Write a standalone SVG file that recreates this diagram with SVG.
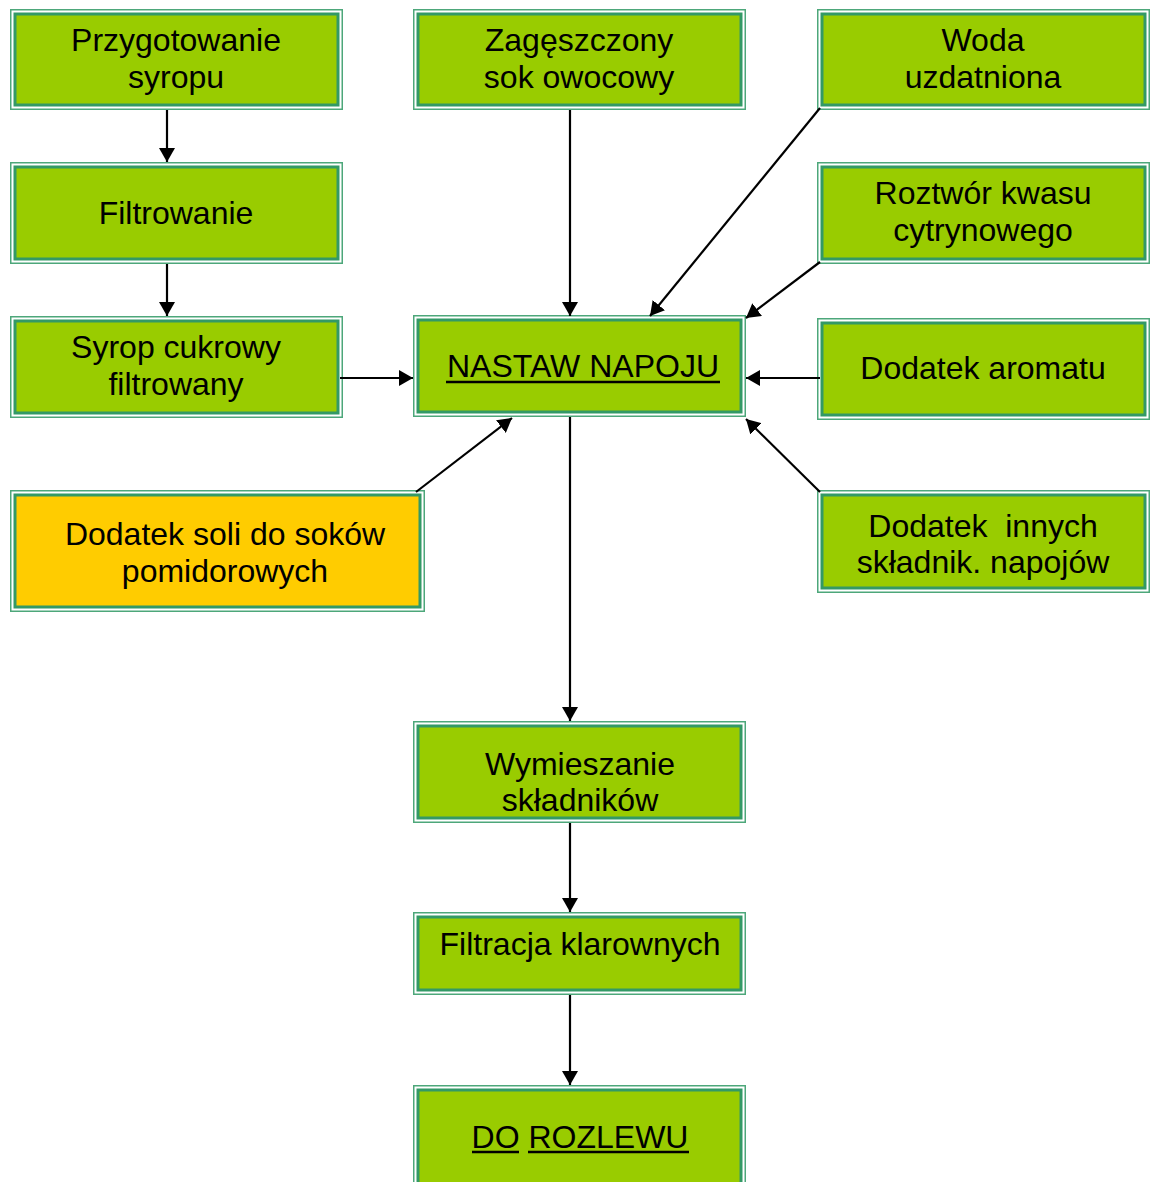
<svg xmlns="http://www.w3.org/2000/svg" width="1152" height="1182" viewBox="0 0 1152 1182">
<defs>
<style>
.o{fill:#ffffff;stroke:#4da77a;stroke-width:1.5}
.i{fill:#99cc00;stroke:#339966;stroke-width:3}
.y{fill:#ffcc00;stroke:#339966;stroke-width:3}
text{font-family:"Liberation Sans",Arial,sans-serif;font-size:32px;fill:#000;text-anchor:middle}
.c line{stroke:#000;stroke-width:2.2;marker-end:url(#ah)}
.u{stroke:#000;stroke-width:2.5}
</style>
<marker id="ah" viewBox="0 0 14 16" refX="14" refY="8" markerWidth="14" markerHeight="16" markerUnits="userSpaceOnUse" orient="auto">
<path d="M0,0 L14,8 L0,16 z" fill="#000"/>
</marker>
</defs>
<rect width="1152" height="1182" fill="#fff"/>
<g id="n1"><rect class="o" x="10.75" y="9.75" width="331.5" height="99.5"/><rect class="i" x="15" y="14" width="323" height="91"/><text x="176" y="51">Przygotowanie</text><text x="176" y="88">syropu</text></g>
<g id="n2"><rect class="o" x="413.75" y="9.75" width="331.5" height="99.5"/><rect class="i" x="418" y="14" width="323" height="91"/><text x="579" y="51">Zagęszczony</text><text x="579" y="88">sok owocowy</text></g>
<g id="n3"><rect class="o" x="817.75" y="9.75" width="331.5" height="99.5"/><rect class="i" x="822" y="14" width="323" height="91"/><text x="983" y="51">Woda</text><text x="983" y="88">uzdatniona</text></g>
<g id="n4"><rect class="o" x="10.75" y="162.75" width="331.5" height="100.5"/><rect class="i" x="15" y="167" width="323" height="92"/><text x="176" y="224">Filtrowanie</text></g>
<g id="n5"><rect class="o" x="817.75" y="162.75" width="331.5" height="100.5"/><rect class="i" x="822" y="167" width="323" height="92"/><text x="983" y="204">Roztwór kwasu</text><text x="983" y="241">cytrynowego</text></g>
<g id="n6"><rect class="o" x="10.75" y="316.75" width="331.5" height="100.5"/><rect class="i" x="15" y="321" width="323" height="92"/><text x="176" y="358">Syrop cukrowy</text><text x="176" y="395">filtrowany</text></g>
<g id="n7"><rect class="o" x="413.75" y="315.75" width="331.5" height="100.5"/><rect class="i" x="418" y="320" width="323" height="92"/><text x="583" y="377">NASTAW NAPOJU</text><line class="u" x1="446" y1="382" x2="720" y2="382"/></g>
<g id="n8"><rect class="o" x="817.75" y="318.75" width="331.5" height="100.5"/><rect class="i" x="822" y="323" width="323" height="92"/><text x="983" y="379">Dodatek aromatu</text></g>
<g id="n9"><rect class="o" x="10.75" y="490.75" width="413.5" height="120.5"/><rect class="y" x="15" y="495" width="405" height="112"/><text x="225" y="545">Dodatek soli do soków</text><text x="225" y="582">pomidorowych</text></g>
<g id="n10"><rect class="o" x="817.75" y="490.75" width="331.5" height="101.5"/><rect class="i" x="822" y="495" width="323" height="93"/><text x="983" y="537" xml:space="preserve">Dodatek  innych</text><text x="983" y="573">składnik. napojów</text></g>
<g id="n11"><rect class="o" x="413.75" y="721.75" width="331.5" height="100.5"/><rect class="i" x="418" y="726" width="323" height="92"/><text x="580" y="775">Wymieszanie</text><text x="580" y="811">składników</text></g>
<g id="n12"><rect class="o" x="413.75" y="912.75" width="331.5" height="81.5"/><rect class="i" x="418" y="917" width="323" height="73"/><text x="580" y="955">Filtracja klarownych</text></g>
<g id="n13"><rect class="o" x="413.75" y="1085.75" width="331.5" height="110"/><rect class="i" x="418" y="1090" width="323" height="110"/><text x="580" y="1148">DO ROZLEWU</text><line class="u" x1="472" y1="1152" x2="519" y2="1152"/><line class="u" x1="528" y1="1152" x2="689" y2="1152"/></g>
<g class="c" id="connectors">
<line x1="167" y1="110" x2="167" y2="162"/>
<line x1="167" y1="264" x2="167" y2="316"/>
<line x1="340" y1="378" x2="413" y2="378"/>
<line x1="570" y1="110" x2="570" y2="316"/>
<line x1="820" y1="108" x2="650" y2="316"/>
<line x1="820" y1="262" x2="746" y2="318"/>
<line x1="820" y1="378" x2="746" y2="378"/>
<line x1="820" y1="492" x2="746" y2="419"/>
<line x1="416" y1="492" x2="512" y2="418"/>
<line x1="570" y1="417" x2="570" y2="721"/>
<line x1="570" y1="823" x2="570" y2="912"/>
<line x1="570" y1="995" x2="570" y2="1085"/>
</g>
</svg>
